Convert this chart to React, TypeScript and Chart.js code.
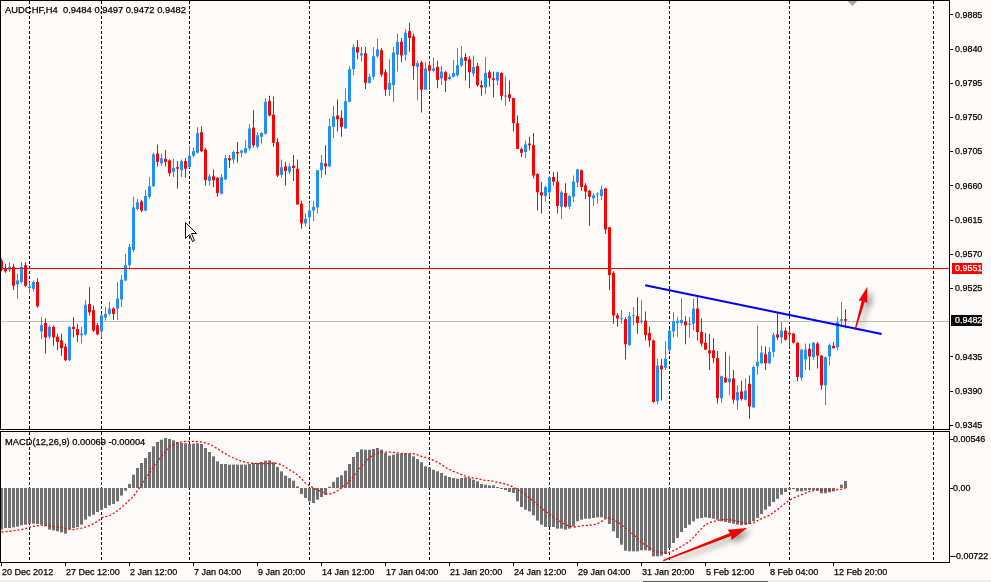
import { useEffect, useRef } from 'react';
import { Chart, registerables } from 'chart.js';

Chart.register(...registerables);

// AUDCHF H4 candles (one entry per bar)
const open = [
  0.9561, 0.9550, 0.9549, 0.9553, 0.9530, 0.9533, 0.9555, 0.9525, 0.9524, 0.9533,
  0.9468, 0.9479, 0.9461, 0.9474, 0.9461, 0.9456, 0.9448, 0.9430, 0.9474, 0.9471,
  0.9463, 0.9464, 0.9504, 0.9496, 0.9476, 0.9468, 0.9486, 0.9491, 0.9498, 0.9498,
  0.9510, 0.9535, 0.9555, 0.9575, 0.9629, 0.9639, 0.9627, 0.9645, 0.9659, 0.9702,
  0.9689, 0.9695, 0.9693, 0.9678, 0.9684, 0.9680, 0.9692, 0.9684, 0.9699, 0.9703,
  0.9730, 0.9707, 0.9666, 0.9672, 0.9670, 0.9649, 0.9668, 0.9696, 0.9694, 0.9704,
  0.9703, 0.9703, 0.9709, 0.9736, 0.9711, 0.9724, 0.9728, 0.9771, 0.9753, 0.9717,
  0.9674, 0.9685, 0.9678, 0.9686, 0.9682, 0.9636, 0.9610, 0.9618, 0.9627, 0.9631,
  0.9680, 0.9689, 0.9685, 0.9737, 0.9752, 0.9749, 0.9735, 0.9770, 0.9813, 0.9842,
  0.9831, 0.9834, 0.9795, 0.9803, 0.9830, 0.9838, 0.9809, 0.9786, 0.9792, 0.9832,
  0.9849, 0.9832, 0.9863, 0.9856, 0.9816, 0.9822, 0.9786, 0.9818, 0.9811, 0.9816,
  0.9801, 0.9809, 0.9800, 0.9803, 0.9805, 0.9818, 0.9829, 0.9826, 0.9807, 0.9817,
  0.9792, 0.9789, 0.9809, 0.9801, 0.9798, 0.9808, 0.9777, 0.9780, 0.9775, 0.9742,
  0.9708, 0.9704, 0.9715, 0.9713, 0.9675, 0.9651, 0.9646, 0.9651, 0.9671, 0.9665,
  0.9632, 0.9650, 0.9632, 0.9645, 0.9664, 0.9680, 0.9660, 0.9653, 0.9643, 0.9648,
  0.9646, 0.9656, 0.9605, 0.9545, 0.9489, 0.9484, 0.9484, 0.9450, 0.9488, 0.9488,
  0.9480, 0.9482, 0.9466, 0.9456, 0.9376, 0.9423, 0.9420, 0.9443, 0.9468, 0.9479,
  0.9479, 0.9481, 0.9477, 0.9478, 0.9498, 0.9467, 0.9453, 0.9443, 0.9443, 0.9433,
  0.9380, 0.9407, 0.9401, 0.9406, 0.9377, 0.9389, 0.9378, 0.9399, 0.9368, 0.9422,
  0.9426, 0.9438, 0.9426, 0.9441, 0.9464, 0.9460, 0.9469, 0.9466, 0.9465, 0.9453,
  0.9407, 0.9431, 0.9445, 0.9434, 0.9452, 0.9436, 0.9397, 0.9435, 0.9449, 0.9447,
  0.9482, 0.9484,
];
const high = [
  0.9564, 0.9557, 0.9559, 0.9557, 0.9544, 0.9559, 0.9559, 0.9533, 0.9535, 0.9538,
  0.9487, 0.9485, 0.9476, 0.9476, 0.9465, 0.9465, 0.9452, 0.9474, 0.9487, 0.9478,
  0.9474, 0.9509, 0.9526, 0.9502, 0.9479, 0.9491, 0.9500, 0.9507, 0.9500, 0.9533,
  0.9542, 0.9570, 0.9583, 0.9645, 0.9642, 0.9641, 0.9654, 0.9671, 0.9703, 0.9714,
  0.9702, 0.9707, 0.9694, 0.9695, 0.9692, 0.9694, 0.9696, 0.9713, 0.9710, 0.9737,
  0.9738, 0.9709, 0.9675, 0.9681, 0.9671, 0.9675, 0.9700, 0.9700, 0.9706, 0.9717,
  0.9707, 0.9720, 0.9741, 0.9759, 0.9730, 0.9730, 0.9775, 0.9778, 0.9777, 0.9722,
  0.9694, 0.9691, 0.9689, 0.9700, 0.9694, 0.9640, 0.9623, 0.9638, 0.9640, 0.9680,
  0.9700, 0.9713, 0.9748, 0.9765, 0.9773, 0.9759, 0.9788, 0.9817, 0.9846, 0.9851,
  0.9842, 0.9842, 0.9807, 0.9842, 0.9853, 0.9841, 0.9813, 0.9826, 0.9842, 0.9860,
  0.9854, 0.9866, 0.9874, 0.9860, 0.9824, 0.9824, 0.9822, 0.9824, 0.9828, 0.9824,
  0.9817, 0.9811, 0.9806, 0.9825, 0.9841, 0.9843, 0.9834, 0.9830, 0.9831, 0.9821,
  0.9798, 0.9829, 0.9812, 0.9810, 0.9810, 0.9809, 0.9803, 0.9798, 0.9775, 0.9752,
  0.9710, 0.9719, 0.9724, 0.9729, 0.9676, 0.9665, 0.9660, 0.9672, 0.9678, 0.9678,
  0.9653, 0.9663, 0.9647, 0.9673, 0.9682, 0.9681, 0.9663, 0.9654, 0.9650, 0.9651,
  0.9660, 0.9657, 0.9605, 0.9547, 0.9492, 0.9496, 0.9487, 0.9493, 0.9500, 0.9513,
  0.9509, 0.9494, 0.9474, 0.9457, 0.9432, 0.9432, 0.9455, 0.9471, 0.9493, 0.9487,
  0.9512, 0.9488, 0.9487, 0.9511, 0.9513, 0.9485, 0.9466, 0.9465, 0.9459, 0.9442,
  0.9410, 0.9441, 0.9436, 0.9417, 0.9397, 0.9403, 0.9406, 0.9410, 0.9423, 0.9476,
  0.9449, 0.9448, 0.9447, 0.9466, 0.9492, 0.9481, 0.9473, 0.9471, 0.9466, 0.9454,
  0.9445, 0.9452, 0.9452, 0.9454, 0.9454, 0.9437, 0.9435, 0.9452, 0.9454, 0.9487,
  0.9507, 0.9497,
];
const low = [
  0.9547, 0.9545, 0.9546, 0.9522, 0.9511, 0.9531, 0.9526, 0.9517, 0.9520, 0.9499,
  0.9458, 0.9439, 0.9458, 0.9449, 0.9443, 0.9436, 0.9429, 0.9429, 0.9460, 0.9454,
  0.9452, 0.9463, 0.9489, 0.9467, 0.9463, 0.9460, 0.9482, 0.9489, 0.9483, 0.9483,
  0.9500, 0.9534, 0.9549, 0.9572, 0.9627, 0.9625, 0.9626, 0.9642, 0.9658, 0.9685,
  0.9686, 0.9685, 0.9672, 0.9671, 0.9656, 0.9671, 0.9670, 0.9683, 0.9697, 0.9702,
  0.9704, 0.9660, 0.9660, 0.9658, 0.9645, 0.9648, 0.9667, 0.9683, 0.9689, 0.9690,
  0.9697, 0.9702, 0.9706, 0.9710, 0.9709, 0.9715, 0.9727, 0.9751, 0.9711, 0.9671,
  0.9670, 0.9660, 0.9675, 0.9666, 0.9635, 0.9603, 0.9606, 0.9605, 0.9613, 0.9623,
  0.9670, 0.9674, 0.9684, 0.9722, 0.9731, 0.9724, 0.9735, 0.9769, 0.9805, 0.9826,
  0.9823, 0.9787, 0.9794, 0.9799, 0.9828, 0.9803, 0.9778, 0.9778, 0.9770, 0.9810,
  0.9822, 0.9824, 0.9836, 0.9799, 0.9772, 0.9756, 0.9786, 0.9786, 0.9809, 0.9788,
  0.9792, 0.9783, 0.9798, 0.9802, 0.9803, 0.9816, 0.9798, 0.9788, 0.9803, 0.9790,
  0.9778, 0.9780, 0.9790, 0.9776, 0.9792, 0.9772, 0.9765, 0.9770, 0.9731, 0.9708,
  0.9697, 0.9696, 0.9706, 0.9669, 0.9627, 0.9623, 0.9639, 0.9645, 0.9660, 0.9623,
  0.9616, 0.9631, 0.9629, 0.9638, 0.9658, 0.9653, 0.9642, 0.9607, 0.9633, 0.9636,
  0.9641, 0.9596, 0.9522, 0.9478, 0.9474, 0.9478, 0.9431, 0.9449, 0.9476, 0.9465,
  0.9478, 0.9456, 0.9447, 0.9374, 0.9372, 0.9377, 0.9417, 0.9441, 0.9460, 0.9461,
  0.9476, 0.9451, 0.9460, 0.9469, 0.9456, 0.9448, 0.9443, 0.9417, 0.9426, 0.9373,
  0.9374, 0.9400, 0.9384, 0.9373, 0.9365, 0.9377, 0.9377, 0.9353, 0.9367, 0.9411,
  0.9425, 0.9417, 0.9425, 0.9434, 0.9457, 0.9452, 0.9456, 0.9449, 0.9452, 0.9402,
  0.9403, 0.9417, 0.9417, 0.9430, 0.9419, 0.9391, 0.9371, 0.9423, 0.9445, 0.9443,
  0.9474, 0.9472,
];
const close = [
  0.9549, 0.9547, 0.9553, 0.9528, 0.9535, 0.9553, 0.9528, 0.9527, 0.9533, 0.9501,
  0.9476, 0.9460, 0.9474, 0.9460, 0.9454, 0.9446, 0.9430, 0.9474, 0.9471, 0.9463,
  0.9465, 0.9503, 0.9493, 0.9469, 0.9464, 0.9489, 0.9491, 0.9498, 0.9491, 0.9511,
  0.9536, 0.9555, 0.9579, 0.9631, 0.9638, 0.9627, 0.9646, 0.9659, 0.9701, 0.9691,
  0.9696, 0.9691, 0.9676, 0.9683, 0.9682, 0.9692, 0.9682, 0.9699, 0.9705, 0.9729,
  0.9705, 0.9667, 0.9672, 0.9667, 0.9650, 0.9671, 0.9696, 0.9693, 0.9704, 0.9702,
  0.9706, 0.9709, 0.9735, 0.9713, 0.9726, 0.9729, 0.9770, 0.9752, 0.9716, 0.9673,
  0.9684, 0.9679, 0.9685, 0.9683, 0.9635, 0.9610, 0.9616, 0.9627, 0.9632, 0.9680,
  0.9690, 0.9685, 0.9738, 0.9751, 0.9747, 0.9737, 0.9771, 0.9813, 0.9842, 0.9835,
  0.9834, 0.9795, 0.9803, 0.9830, 0.9839, 0.9806, 0.9786, 0.9795, 0.9835, 0.9849,
  0.9831, 0.9861, 0.9854, 0.9817, 0.9821, 0.9786, 0.9814, 0.9811, 0.9814, 0.9799,
  0.9810, 0.9798, 0.9803, 0.9808, 0.9818, 0.9828, 0.9824, 0.9809, 0.9816, 0.9792,
  0.9789, 0.9808, 0.9801, 0.9799, 0.9809, 0.9778, 0.9778, 0.9775, 0.9742, 0.9708,
  0.9703, 0.9714, 0.9713, 0.9673, 0.9651, 0.9647, 0.9658, 0.9671, 0.9665, 0.9633,
  0.9651, 0.9632, 0.9646, 0.9665, 0.9681, 0.9658, 0.9652, 0.9645, 0.9647, 0.9649,
  0.9655, 0.9602, 0.9542, 0.9489, 0.9485, 0.9485, 0.9451, 0.9488, 0.9489, 0.9479,
  0.9482, 0.9463, 0.9456, 0.9375, 0.9423, 0.9418, 0.9432, 0.9469, 0.9481, 0.9482,
  0.9483, 0.9476, 0.9478, 0.9498, 0.9467, 0.9452, 0.9444, 0.9439, 0.9433, 0.9380,
  0.9409, 0.9401, 0.9406, 0.9378, 0.9388, 0.9379, 0.9390, 0.9369, 0.9421, 0.9428,
  0.9440, 0.9426, 0.9441, 0.9463, 0.9460, 0.9469, 0.9457, 0.9464, 0.9453, 0.9408,
  0.9444, 0.9444, 0.9435, 0.9453, 0.9436, 0.9397, 0.9434, 0.9450, 0.9446, 0.9480,
  0.9484, 0.9482,
];

// MACD(12,26,9): main line (histogram) and signal line
const macdMain = [
  -0.00410, -0.00394, -0.00394, -0.00387, -0.00380, -0.00367, -0.00361, -0.00351, -0.00351, -0.00354,
  -0.00361, -0.00377, -0.00410, -0.00417, -0.00426, -0.00436, -0.00449, -0.00407, -0.00394, -0.00384,
  -0.00361, -0.00312, -0.00279, -0.00262, -0.00236, -0.00213, -0.00197, -0.00171, -0.00157, -0.00131,
  -0.00075, -0.00026, 0.00039, 0.00131, 0.00197, 0.00246, 0.00295, 0.00354, 0.00410, 0.00453,
  0.00476, 0.00492, 0.00482, 0.00469, 0.00453, 0.00443, 0.00440, 0.00436, 0.00436, 0.00440,
  0.00433, 0.00394, 0.00354, 0.00312, 0.00262, 0.00236, 0.00236, 0.00230, 0.00230, 0.00230,
  0.00230, 0.00230, 0.00236, 0.00246, 0.00246, 0.00256, 0.00269, 0.00272, 0.00253, 0.00207,
  0.00164, 0.00121, 0.00098, 0.00072, 0.00016, -0.00059, -0.00098, -0.00131, -0.00148, -0.00115,
  -0.00089, -0.00066, 0.00013, 0.00059, 0.00105, 0.00125, 0.00171, 0.00236, 0.00305, 0.00354,
  0.00380, 0.00377, 0.00377, 0.00384, 0.00394, 0.00377, 0.00344, 0.00318, 0.00328, 0.00335,
  0.00338, 0.00344, 0.00338, 0.00312, 0.00285, 0.00253, 0.00213, 0.00203, 0.00180, 0.00164,
  0.00148, 0.00121, 0.00108, 0.00098, 0.00092, 0.00098, 0.00105, 0.00098, 0.00082, 0.00066,
  0.00039, 0.00033, 0.00026, 0.00026, 0.00010, -0.00010, -0.00020, -0.00039, -0.00049, -0.00131,
  -0.00187, -0.00213, -0.00230, -0.00269, -0.00321, -0.00361, -0.00384, -0.00384, -0.00384, -0.00400,
  -0.00400, -0.00410, -0.00400, -0.00377, -0.00328, -0.00312, -0.00302, -0.00302, -0.00295, -0.00289,
  -0.00289, -0.00302, -0.00354, -0.00426, -0.00492, -0.00558, -0.00617, -0.00623, -0.00623, -0.00623,
  -0.00613, -0.00613, -0.00617, -0.00672, -0.00672, -0.00666, -0.00649, -0.00590, -0.00541, -0.00492,
  -0.00433, -0.00394, -0.00361, -0.00328, -0.00302, -0.00295, -0.00289, -0.00295, -0.00302, -0.00312,
  -0.00328, -0.00335, -0.00344, -0.00351, -0.00361, -0.00367, -0.00361, -0.00354, -0.00328, -0.00295,
  -0.00256, -0.00213, -0.00180, -0.00138, -0.00105, -0.00066, -0.00039, -0.00016, -0.00010, -0.00033,
  -0.00033, -0.00026, -0.00020, -0.00020, -0.00026, -0.00052, -0.00052, -0.00043, -0.00033, -0.00002,
  0.00033, 0.00069,
];
const macdSignal = [
  -0.00433, -0.00430, -0.00426, -0.00420, -0.00413, -0.00410, -0.00400, -0.00387, -0.00377, -0.00371,
  -0.00367, -0.00367, -0.00371, -0.00377, -0.00384, -0.00390, -0.00400, -0.00407, -0.00410, -0.00403,
  -0.00394, -0.00384, -0.00371, -0.00351, -0.00328, -0.00295, -0.00282, -0.00272, -0.00249, -0.00223,
  -0.00190, -0.00157, -0.00118, -0.00082, -0.00026, 0.00033, 0.00092, 0.00148, 0.00207, 0.00262,
  0.00312, 0.00361, 0.00410, 0.00426, 0.00443, 0.00453, 0.00459, 0.00459, 0.00459, 0.00456,
  0.00453, 0.00443, 0.00433, 0.00410, 0.00387, 0.00361, 0.00338, 0.00315, 0.00295, 0.00279,
  0.00262, 0.00253, 0.00246, 0.00243, 0.00239, 0.00239, 0.00239, 0.00243, 0.00246, 0.00239,
  0.00230, 0.00207, 0.00180, 0.00157, 0.00131, 0.00092, 0.00049, 0.00023, 0.00000, -0.00020,
  -0.00033, -0.00059, -0.00059, -0.00049, -0.00026, 0.00000, 0.00033, 0.00066, 0.00115, 0.00164,
  0.00213, 0.00262, 0.00295, 0.00328, 0.00341, 0.00354, 0.00354, 0.00354, 0.00351, 0.00344,
  0.00341, 0.00338, 0.00338, 0.00338, 0.00325, 0.00312, 0.00302, 0.00289, 0.00272, 0.00253,
  0.00230, 0.00203, 0.00184, 0.00164, 0.00148, 0.00131, 0.00118, 0.00105, 0.00098, 0.00092,
  0.00082, 0.00075, 0.00072, 0.00066, 0.00056, 0.00049, 0.00039, 0.00026, 0.00007, -0.00016,
  -0.00039, -0.00066, -0.00098, -0.00131, -0.00164, -0.00197, -0.00230, -0.00256, -0.00285, -0.00312,
  -0.00338, -0.00361, -0.00374, -0.00384, -0.00380, -0.00371, -0.00367, -0.00367, -0.00361, -0.00351,
  -0.00328, -0.00302, -0.00295, -0.00312, -0.00335, -0.00361, -0.00394, -0.00426, -0.00459, -0.00492,
  -0.00541, -0.00558, -0.00590, -0.00610, -0.00630, -0.00636, -0.00640, -0.00630, -0.00617, -0.00597,
  -0.00574, -0.00551, -0.00525, -0.00485, -0.00443, -0.00400, -0.00361, -0.00341, -0.00328, -0.00318,
  -0.00312, -0.00312, -0.00312, -0.00318, -0.00328, -0.00341, -0.00351, -0.00351, -0.00344, -0.00321,
  -0.00302, -0.00285, -0.00269, -0.00239, -0.00213, -0.00180, -0.00148, -0.00121, -0.00098, -0.00082,
  -0.00066, -0.00049, -0.00033, -0.00026, -0.00020, -0.00020, -0.00020, -0.00020, -0.00020, -0.00016,
  -0.00013, -0.00004,
];

const priceTicks = [0.9885, 0.9840, 0.9795, 0.9750, 0.9705, 0.9660, 0.9615, 0.9570, 0.9525, 0.9435, 0.9390, 0.9345];
const levelPrice = 0.9551;
const bidPrice = 0.9482;
const macdTicks = [0.00546, 0, -0.00722];
const macdTickText = ['0.00546', '0.00', '-0.00722'];
const timeLabels = [
  '20 Dec 2012', '27 Dec 12:00', '2 Jan 12:00', '7 Jan 04:00', '9 Jan 20:00', '14 Jan 12:00', '17 Jan 04:00',
  '21 Jan 20:00', '24 Jan 12:00', '29 Jan 04:00', '31 Jan 20:00', '5 Feb 12:00', '8 Feb 04:00', '12 Feb 20:00',
];
const timeLabelIndex = [0, 16, 32, 48, 64, 80, 96, 112, 128, 144, 160, 176, 192, 208];
const gridIndex = [7, 25, 47, 77, 107, 137, 167, 197, 233];

// drawn objects, in bar index / price units
const trendLine = { i1: 160.9, p1: 0.95286, i2: 220.05, p2: 0.94645 };
const priceArrow = { i1: 213.4, p1: 0.94698, i2: 216.45, p2: 0.95268 };
const macdArrow = { i1: 165.45, v1: -0.00715, i2: 186.45, v2: -0.00394 };
const cursorAt = { i: 45.9, p: 0.96119 };
const shiftMarkerIndex = 212.75;

const title = 'AUDCHF,H4  0.9484 0.9497 0.9472 0.9482';
const macdTitle = 'MACD(12,26,9) 0.00069 -0.00004';

const X_MIN = -0.375;
const X_MAX = 237.125;
const BG = '#FFFBF9';
const BULL = '#1E90FF';
const BEAR = '#FF0000';
const FONT = '"Liberation Sans", Arial, sans-serif';

const idx = open.map((_, i) => i);
const candleColors = idx.map(i => (close[i] >= open[i] ? BULL : BEAR));

// narrow, slightly heavier text to get near the terminal's bitmap font
function label(ctx: CanvasRenderingContext2D, s: string, x: number, y: number, size: number, sx: number) {
  ctx.save();
  ctx.translate(x, y);
  ctx.scale(sx, 1);
  ctx.font = `${size}px ${FONT}`;
  ctx.textBaseline = 'middle';
  ctx.fillText(s, 0, 0);
  ctx.lineWidth = 0.25;
  ctx.strokeStyle = ctx.fillStyle;
  ctx.strokeText(s, 0, 0);
  ctx.restore();
}

function drawArrow(ctx: CanvasRenderingContext2D, x1: number, y1: number, x2: number, y2: number, head: number, half: number) {
  const len = Math.hypot(x2 - x1, y2 - y1);
  ctx.save();
  ctx.shadowColor = 'rgba(0,0,0,0.45)';
  ctx.shadowBlur = 6;
  ctx.shadowOffsetX = 4;
  ctx.shadowOffsetY = 3;
  ctx.translate(x1, y1);
  ctx.rotate(Math.atan2(y2 - y1, x2 - x1));
  ctx.fillStyle = '#F00000';
  ctx.beginPath();
  ctx.moveTo(0, -0.6);
  ctx.lineTo(len - head, -1.6);
  ctx.lineTo(len - head - 1, -half);
  ctx.lineTo(len, 0);
  ctx.lineTo(len - head - 1, half);
  ctx.lineTo(len - head, 1.6);
  ctx.lineTo(0, 0.6);
  ctx.closePath();
  ctx.fill();
  ctx.restore();
}

function drawGrid(chart: any) {
  const { ctx, chartArea: a, scales } = chart;
  ctx.save();
  ctx.strokeStyle = '#000';
  ctx.lineWidth = 1;
  ctx.setLineDash([3, 2]);
  for (const g of gridIndex) {
    const px = Math.floor(scales.x.getPixelForValue(g)) + 0.5;
    ctx.beginPath();
    ctx.moveTo(px, a.top + 1);
    ctx.lineTo(px, a.bottom - 1);
    ctx.stroke();
  }
  ctx.restore();
}

function drawBorder(chart: any) {
  const { ctx, chartArea: a } = chart;
  ctx.save();
  ctx.strokeStyle = '#000';
  ctx.lineWidth = 1;
  ctx.strokeRect(a.left + 0.5, a.top + 0.5, a.right - a.left - 1, a.bottom - a.top - 1);
  ctx.restore();
}

const mainDecor = {
  id: 'mainDecor',
  beforeDatasetsDraw(chart: any) {
    const { ctx, chartArea: a, scales: { y } } = chart;
    drawGrid(chart);
    ctx.save();
    const by = Math.round(y.getPixelForValue(bidPrice)) + 0.5;
    ctx.strokeStyle = '#C0C0C0';
    ctx.beginPath();
    ctx.moveTo(a.left, by);
    ctx.lineTo(a.right, by);
    ctx.stroke();
    ctx.restore();
  },
  afterDatasetsDraw(chart: any) {
    const { ctx, chartArea: a, scales: { x, y } } = chart;
    ctx.save();
    // resistance level
    const ly = Math.round(y.getPixelForValue(levelPrice)) + 0.5;
    ctx.strokeStyle = '#FF0000';
    ctx.lineWidth = 1;
    ctx.beginPath();
    ctx.moveTo(a.left, ly);
    ctx.lineTo(a.right, ly);
    ctx.stroke();
    // trend line
    ctx.strokeStyle = '#0000FF';
    ctx.lineWidth = 2;
    ctx.beginPath();
    ctx.moveTo(x.getPixelForValue(trendLine.i1), y.getPixelForValue(trendLine.p1));
    ctx.lineTo(x.getPixelForValue(trendLine.i2), y.getPixelForValue(trendLine.p2));
    ctx.stroke();
    ctx.restore();

    drawArrow(ctx, x.getPixelForValue(priceArrow.i1), y.getPixelForValue(priceArrow.p1),
      x.getPixelForValue(priceArrow.i2), y.getPixelForValue(priceArrow.p2), 15, 4.5);

    drawBorder(chart);

    ctx.save();
    ctx.fillStyle = '#000';
    label(ctx, title, 5, 10, 9.5, 0.99);

    // price axis
    for (const p of priceTicks) {
      const py = y.getPixelForValue(p);
      ctx.fillStyle = '#000';
      ctx.fillRect(a.right, Math.round(py), 3, 1);
      label(ctx, p.toFixed(4), a.right + 5, py + 0.5, 9.5, 0.94);
    }
    const lvy = Math.round(y.getPixelForValue(levelPrice));
    ctx.fillStyle = '#FF0000';
    ctx.fillRect(a.right + 2, lvy - 5, 30, 11);
    ctx.fillStyle = '#FFFFFF';
    label(ctx, levelPrice.toFixed(4), a.right + 5, lvy + 0.5, 9.5, 0.94);
    const bvy = Math.round(y.getPixelForValue(bidPrice)) - 1;
    ctx.fillStyle = '#000';
    ctx.fillRect(a.right + 1, bvy - 5, 31, 11);
    ctx.fillStyle = '#FFFFFF';
    label(ctx, bidPrice.toFixed(4), a.right + 5, bvy + 0.5, 9.5, 0.94);

    // chart shift marker
    const sx = x.getPixelForValue(shiftMarkerIndex);
    ctx.fillStyle = '#A8A8A8';
    ctx.beginPath();
    ctx.moveTo(sx - 5, a.top + 1);
    ctx.lineTo(sx + 5, a.top + 1);
    ctx.lineTo(sx, a.top + 6);
    ctx.closePath();
    ctx.fill();

    // mouse pointer
    const cx = Math.round(x.getPixelForValue(cursorAt.i)) + 0.5;
    const cy = Math.round(y.getPixelForValue(cursorAt.p)) + 0.5;
    const shape = [[0, 0], [0, 16], [4, 12], [7, 19], [9, 18], [6, 11], [11, 11]];
    ctx.beginPath();
    shape.forEach(([dx, dy], k) => (k ? ctx.lineTo(cx + dx, cy + dy) : ctx.moveTo(cx + dx, cy + dy)));
    ctx.closePath();
    ctx.fillStyle = '#FFFFFF';
    ctx.fill();
    ctx.strokeStyle = '#000';
    ctx.lineWidth = 1;
    ctx.stroke();
    ctx.restore();
  },
};

const macdDecor = {
  id: 'macdDecor',
  beforeDatasetsDraw(chart: any) {
    drawGrid(chart);
  },
  afterDatasetsDraw(chart: any) {
    const { ctx, chartArea: a, scales: { x, y } } = chart;
    drawArrow(ctx, x.getPixelForValue(macdArrow.i1), y.getPixelForValue(macdArrow.v1),
      x.getPixelForValue(macdArrow.i2), y.getPixelForValue(macdArrow.v2), 18, 5.5);
    drawBorder(chart);

    ctx.save();
    ctx.fillStyle = '#000';
    label(ctx, macdTitle, 5, a.top + 11, 9.5, 0.98);

    macdTicks.forEach((v, k) => {
      let py = y.getPixelForValue(v);
      py = Math.min(Math.max(py, a.top + 8), a.bottom - 7.5);
      ctx.fillRect(a.right, Math.round(py), 3, 1);
      label(ctx, macdTickText[k], a.right + 3, py + 0.5, 9.5, 0.94);
    });

    // time axis
    timeLabelIndex.forEach((ti, k) => {
      const px = Math.floor(x.getPixelForValue(ti));
      ctx.fillRect(px, a.bottom, 1, 3);
      label(ctx, timeLabels[k], Math.max(px + 1, 2), a.bottom + 9, 9.5, 0.95);
    });
    ctx.restore();
  },
};

export default function App() {
  const mainRef = useRef<HTMLCanvasElement>(null);
  const macdRef = useRef<HTMLCanvasElement>(null);

  useEffect(() => {
    if (!mainRef.current || !macdRef.current) return;

    const common: any = {
      responsive: false,
      animation: false,
      devicePixelRatio: 1,
      events: [],
      plugins: { legend: { display: false }, tooltip: { enabled: false } },
    };

    const main = new Chart(mainRef.current, {
      type: 'bar',
      data: {
        datasets: [
          {
            data: idx.map(i => ({ x: i, y: [low[i], high[i]] })) as any,
            backgroundColor: candleColors,
            barThickness: 1,
            grouped: false,
            borderWidth: 0,
            inflateAmount: 0,
          } as any,
          {
            data: idx.map(i => ({ x: i, y: [open[i], close[i]] })) as any,
            backgroundColor: candleColors,
            barThickness: 3,
            grouped: false,
            borderWidth: 0,
            inflateAmount: 0,
            minBarLength: 1,
          } as any,
        ],
      },
      options: {
        ...common,
        layout: { padding: { left: 0, top: 0, right: 41, bottom: 0 } },
        scales: {
          x: { type: 'linear', min: X_MIN, max: X_MAX, offset: false, display: false },
          y: { type: 'linear', min: 0.93382, max: 0.9904, display: false },
        },
      },
      plugins: [mainDecor],
    });

    const macd = new Chart(macdRef.current, {
      type: 'bar',
      data: {
        datasets: [
          {
            type: 'line',
            data: idx.map(i => ({ x: i, y: macdSignal[i] })) as any,
            borderColor: '#FF0000',
            borderWidth: 1.3,
            borderDash: [2, 2],
            pointRadius: 0,
            tension: 0,
            order: 0,
          } as any,
          {
            data: idx.map(i => ({ x: i, y: macdMain[i] })) as any,
            backgroundColor: '#707070',
            barThickness: 3,
            grouped: false,
            borderWidth: 0,
            inflateAmount: 0,
            order: 1,
          } as any,
        ],
      },
      options: {
        ...common,
        layout: { padding: { left: 0, top: 1, right: 41, bottom: 19 } },
        scales: {
          x: { type: 'linear', min: X_MIN, max: X_MAX, offset: false, display: false },
          y: { type: 'linear', min: -0.00738, max: 0.00561, display: false },
        },
      },
      plugins: [macdDecor],
    });

    return () => {
      main.destroy();
      macd.destroy();
    };
  }, []);

  return (
    <div style={{ position: 'fixed', left: 0, top: 0, width: 991, height: 582, background: BG, overflow: 'hidden' }}>
      <canvas ref={mainRef} width={991} height={430} style={{ position: 'absolute', left: 0, top: 0, width: 991, height: 430 }} />
      <canvas ref={macdRef} width={991} height={152} style={{ position: 'absolute', left: 0, top: 430, width: 991, height: 152 }} />
      <div style={{ position: 'absolute', left: 0, top: 580, width: 991, height: 2, background: '#F1EFE3' }} />
      <div style={{ position: 'absolute', left: 643, top: 581, width: 125, height: 1, background: '#666' }} />
    </div>
  );
}
